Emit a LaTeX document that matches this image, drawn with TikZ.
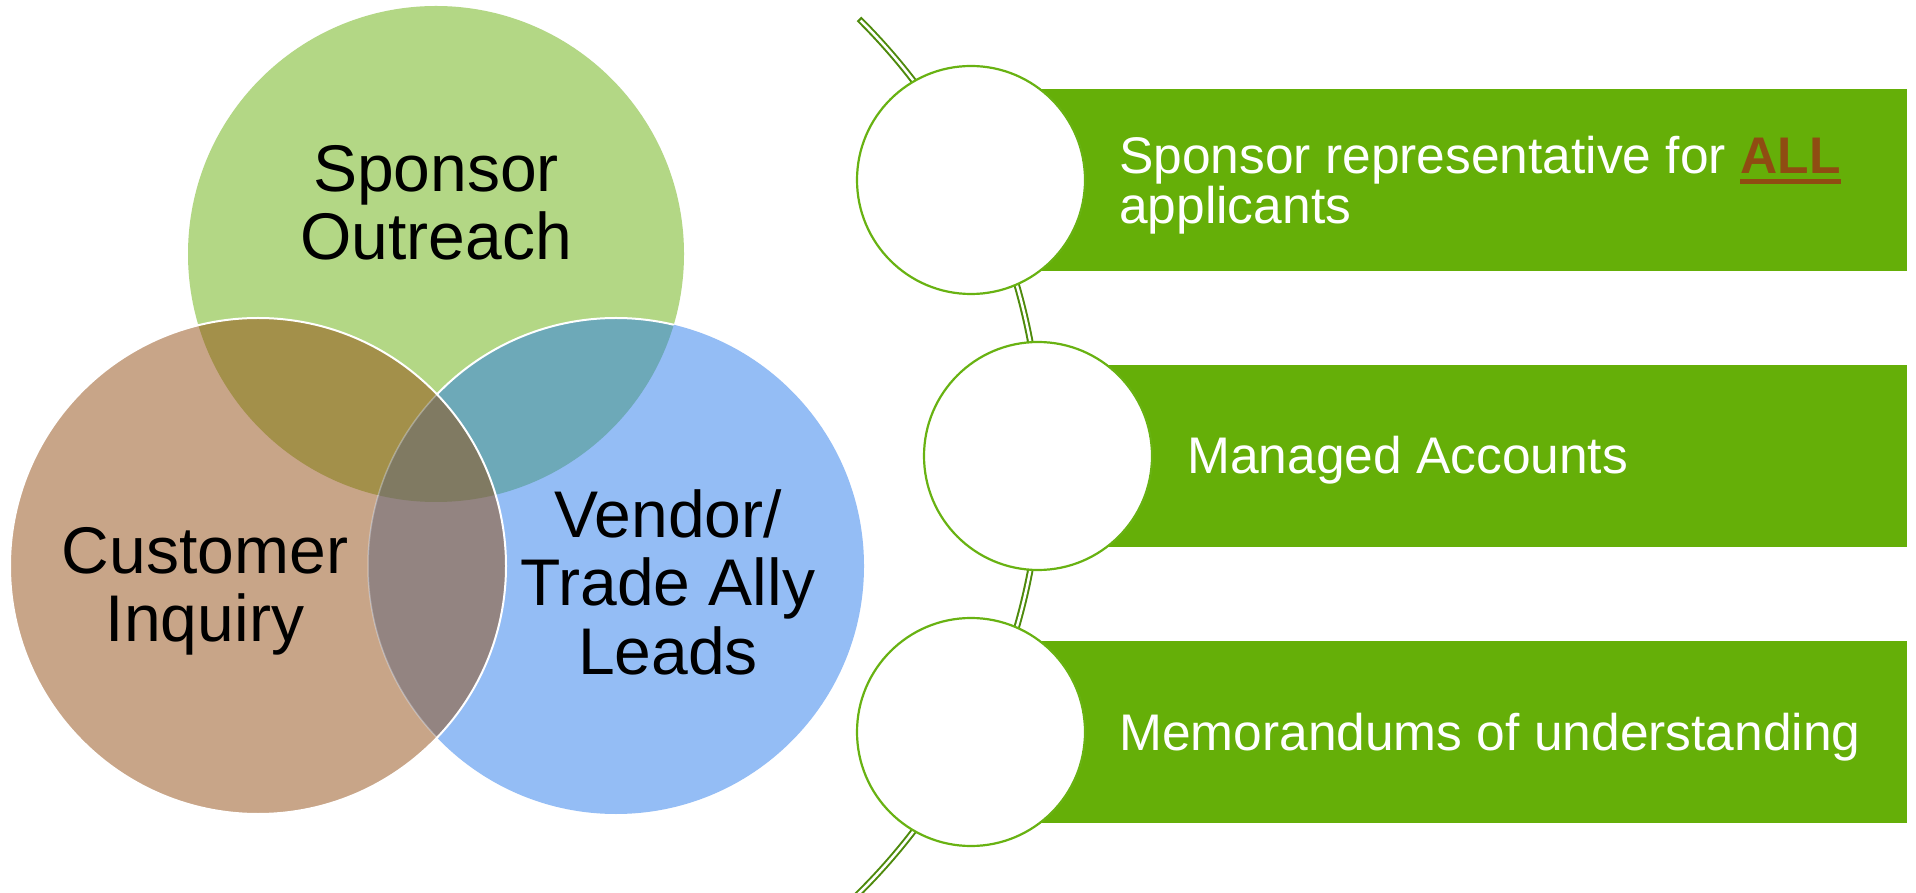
\documentclass[tikz,border=0pt]{standalone}
\usepackage{fontspec}
\setmainfont{Liberation Sans}
\definecolor{vgreen}{RGB}{179,215,133}
\definecolor{vbrown}{RGB}{200,165,136}
\definecolor{vblue}{RGB}{148,189,245}
\definecolor{vgb}{RGB}{163,144,74}
\definecolor{vgl}{RGB}{109,169,184}
\definecolor{vbl}{RGB}{147,132,129}
\definecolor{vall}{RGB}{128,122,98}
\definecolor{boxgreen}{RGB}{101,175,8}
\definecolor{ringgreen}{RGB}{104,178,18}
\definecolor{arcgreen}{RGB}{78,138,12}
\definecolor{allbrown}{RGB}{143,76,18}
\newcommand\ulword[1]{\setbox0=\hbox{#1}\rlap{\rule[-10pt]{\wd0}{4.5pt}}\box0}
\begin{document}
\begin{tikzpicture}[x=1pt,y=1pt,
  venntext/.style={inner sep=0pt, anchor=base, font=\fontsize{66}{68}\selectfont, text=black},
  listtext/.style={inner sep=0pt, anchor=base west, font=\fontsize{51.5}{52}\selectfont, text=white},
  listbox/.style={fill=boxgreen, draw=none, inner sep=0pt, anchor=south west, minimum height=182pt},
  ringnode/.style={circle, fill=white, draw=ringgreen, line width=2.2pt, minimum size=228pt, inner sep=0pt}]
\useasboundingbox (0,0) rectangle (1916,892);
\fill[white] (0,0) rectangle (1916,892);
% ---------- Venn ----------
\coordinate (G) at (436,638);
\coordinate (B) at (258,326);
\coordinate (L) at (616,326);
\fill[vgreen] (G) circle[radius=248pt];
\fill[vbrown] (B) circle[radius=248pt];
\fill[vblue] (L) circle[radius=248pt];
\begin{scope}\clip (G) circle[radius=248pt]; \fill[vgb] (B) circle[radius=248pt];\end{scope}
\begin{scope}\clip (G) circle[radius=248pt]; \fill[vgl] (L) circle[radius=248pt];\end{scope}
\begin{scope}\clip (B) circle[radius=248pt]; \fill[vbl] (L) circle[radius=248pt];\end{scope}
\begin{scope}\clip (G) circle[radius=248pt]; \clip (B) circle[radius=248pt]; \fill[vall] (L) circle[radius=248pt];\end{scope}
\draw[white, line width=2pt] (B) circle[radius=248pt];
\begin{scope}\clip (B) circle[radius=248pt]; \draw[white, opacity=0.3, line width=1.5pt] (L) circle[radius=248pt];\end{scope}
\begin{scope}
  \clip (G) circle[radius=248pt];
  \begin{scope}[even odd rule]
    \clip (G) circle[radius=248pt] (B) circle[radius=248pt];
    \draw[white, line width=2pt] (L) circle[radius=248pt];
  \end{scope}
\end{scope}
\node[venntext] (so1) at (436,700) {Sponsor};
\node[venntext] (so2) at (436,632) {Outreach};
\node[venntext] (ci1) at (205,318) {Customer};
\node[venntext] (ci2) at (205,251) {Inquiry};
\node[venntext] (vt1) at (668,354) {Vendor/};
\node[venntext] (vt2) at (668,286) {Trade Ally};
\node[venntext] (vt3) at (668,218) {Leads};
% ---------- list ----------
\draw[arcgreen, line width=6.5pt] ([shift={(45.2:616pt)}]425,436) arc[start angle=45.2, end angle=-46, radius=616pt];
\draw[white, line width=2.5pt] ([shift={(45:616pt)}]425,436) arc[start angle=45, end angle=-46, radius=616pt];
\node[listbox, minimum width=936pt] (r1) at (971,621) {};
\node[listbox, minimum width=869pt] (r2) at (1038,345) {};
\node[listbox, minimum width=936pt] (r3) at (971,69) {};
\node[ringnode] (c1) at (971,712) {};
\node[ringnode] (c2) at (1038,436) {};
\node[ringnode] (c3) at (971,160) {};
\node[listtext] (t1a) at (1119,718) {Sponsor representative for {\color{allbrown}\ulword{\bfseries ALL}}};
\node[listtext] (t1b) at (1119,668) {applicants};
\node[listtext] (t2) at (1187,418) {Managed Accounts};
\node[listtext] (t3) at (1119,142) {Memorandums of understanding};
\end{tikzpicture}
\end{document}
